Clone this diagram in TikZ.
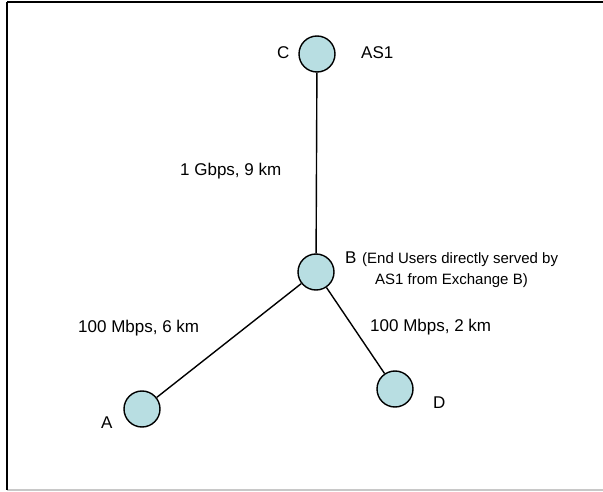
\documentclass[tikz,border=0pt]{standalone}
\usepackage{fontspec}
\setmainfont{Liberation Sans}
\definecolor{nodefill}{RGB}{184,222,226}
\definecolor{framegray}{RGB}{200,200,200}
\begin{document}
\begin{tikzpicture}[x=1pt,y=-1pt,
  site/.style={circle,draw=black,line width=1.4pt,fill=nodefill,minimum size=36pt,inner sep=0pt},
  link/.style={draw=black,line width=1.4pt},
  lbl/.style={anchor=base west,inner sep=0pt,font=\fontsize{17}{20}\selectfont},
  small/.style={anchor=base west,inner sep=0pt,font=\fontsize{15}{18}\selectfont}]
\useasboundingbox (0,0) rectangle (603,492);
% frame
\draw[framegray,line width=1.5pt] (7,490) -- (603,490);
\draw[black,line width=1.5pt] (7,2) -- (603,2);
\draw[black,line width=2pt] (7,2) -- (7,490);
% sites
\node[site] (C) at (317,54) {};
\node[site] (B) at (316,272) {};
\node[site] (A) at (142,409) {};
\node[site] (D) at (395,389) {};
% links
\draw[link] (C) -- (B);
\draw[link] (B) -- (A);
\draw[link] (B) -- (D);
% labels
\node[lbl] (lc) at (277,59) {C};
\node[lbl] (las) at (361,59) {AS1};
\node[lbl] (lcb) at (180,176) {1 Gbps, 9 km};
\node[lbl] (lb) at (345,263) {B};
\node[small] (lb1) at (362,263) {(End Users directly served by};
\node[small] (lb2) at (375,284) {AS1 from Exchange B)};
\node[lbl] (lba) at (78,332) {100 Mbps, 6 km};
\node[lbl] (lbd) at (370,331) {100 Mbps, 2 km};
\node[lbl] (la) at (101,428) {A};
\node[lbl] (ld) at (433,408) {D};
\end{tikzpicture}
\end{document}
